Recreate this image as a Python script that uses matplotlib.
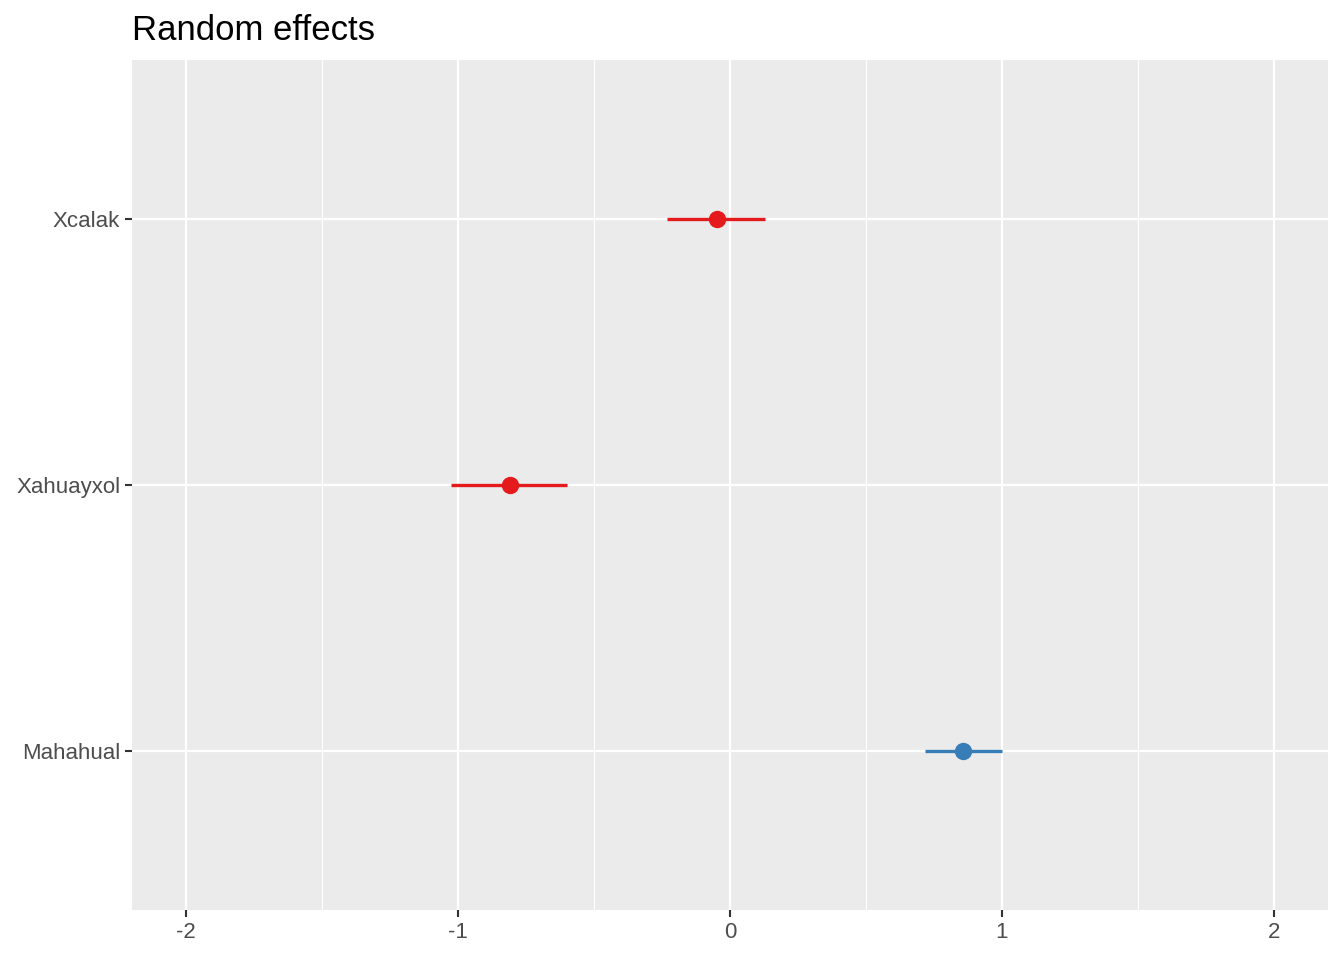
import numpy as np
import matplotlib.pyplot as plt
from matplotlib.ticker import MultipleLocator

plt.rcParams['font.family'] = ['Liberation Sans', 'DejaVu Sans']

sites = ["Mahahual", "Xahuayxol", "Xcalak"]
estimate = [0.859, -0.811, -0.049]
lower = [0.718, -1.025, -0.231]
upper = [1.002, -0.598, 0.130]
colors = ["#377EB8", "#E41A1C", "#E41A1C"]

fig = plt.figure(figsize=(13.44, 9.6), dpi=100)
ax = fig.add_axes([132/1344, 1 - 910/960, 1196/1344, 850/960])
ax.set_facecolor("#EBEBEB")

ypos = np.arange(1, len(sites) + 1)
for y, est, lo, hi, c in zip(ypos, estimate, lower, upper, colors):
    ax.plot([lo, hi], [y, y], color=c, lw=2.4, solid_capstyle="butt", zorder=3)
    ax.plot(est, y, "o", color=c, ms=12.5, mew=0, zorder=4)

ax.set_xlim(-2.2, 2.2)
ax.set_ylim(0.4, 3.6)
ax.set_yticks(ypos)
ax.set_yticklabels(sites)
ax.set_xticks([-2, -1, 0, 1, 2])
ax.set_xticklabels(["-2", "-1", "0", "1", "2"])
ax.xaxis.set_minor_locator(MultipleLocator(0.5))

ax.grid(which="major", color="white", lw=1.6, zorder=0)
ax.grid(which="minor", axis="x", color="white", lw=0.8, zorder=0)
ax.set_axisbelow(True)
for s in ax.spines.values():
    s.set_visible(False)
ax.tick_params(which="major", length=5, width=1.5, color="#333333",
               labelcolor="#4D4D4D", labelsize=16, pad=3.5)
ax.tick_params(which="minor", length=0)

ax.set_title("Random effects", loc="left", fontsize=25, pad=14.5)

fig.savefig("out.png", dpi=100)
